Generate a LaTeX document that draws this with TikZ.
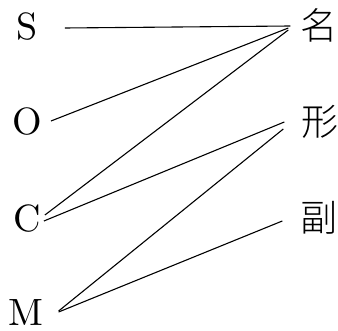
\documentclass[tikz,border=0pt]{standalone}
\usepackage{fontspec}
\newfontfamily\cjk{Noto Sans CJK SC Light}
\newfontfamily\rolefont{lmroman10-regular}[Extension=.otf]
\usepackage{tikz}
\usetikzlibrary{calc}

\begin{document}
\begin{tikzpicture}[x=1pt,y=-1pt,
  role/.style={inner sep=0pt,font=\rolefont\fontsize{38}{40}\selectfont},
  wclass/.style={inner sep=0pt,font=\cjk\fontsize{37}{40}\selectfont},
  link/.style={line width=1.1pt}]
  \useasboundingbox (0,0) rectangle (338,331);
  \node[role] (S) at (27,27) {S};
  \node[role] (O) at (27,122) {O};
  \node[role] (C) at (27,219) {C};
  \node[role] (M) at (26,313) {M};
  \node[wclass] (ming) at (319,25) {名};
  \node[wclass] (xing) at (320,122) {形};
  \node[wclass] (fu) at (319,218) {副};
  \draw[link] ($(S.east)+(27,1)$) -- ($(ming.west)+(-10,1)$);
  \draw[link] ($(O.east)+(9,-1)$) -- ($(ming.west)+(-12,3)$);
  \draw[link] ($(C.east)+(4,-4)$) -- ($(ming.west)+(-12,5)$);
  \draw[link] ($(C.east)+(3,2)$) -- ($(xing.west)+(-17,0)$);
  \draw[link] ($(M.east)+(15,-2)$) -- ($(xing.west)+(-18,7)$);
  \draw[link] ($(M.east)+(15,-1)$) -- ($(fu.west)+(-18,3)$);
\end{tikzpicture}
\end{document}
